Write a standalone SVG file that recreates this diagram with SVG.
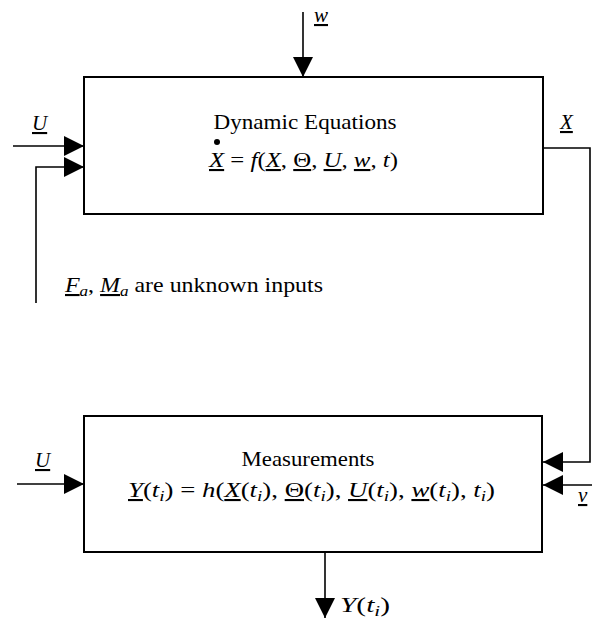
<svg xmlns="http://www.w3.org/2000/svg" width="592" height="624" viewBox="0 0 592 624">
<style>
text{font-family:"Liberation Serif","Times New Roman",serif;font-size:21px;fill:#000}
.i{font-style:italic}
.u{text-decoration:underline}
.s{font-size:15px;font-style:italic}
.box{fill:#fff;stroke:#000;stroke-width:2}
.c{fill:none;stroke:#000;stroke-width:1.6}
</style>
<defs>
<marker id="ah" viewBox="0 0 20 20" refX="20" refY="10" markerWidth="21" markerHeight="20" markerUnits="userSpaceOnUse" orient="auto">
<path d="M0,0 L20,10 L0,20 Z" fill="#000"/>
</marker>
</defs>
<g id="connectors">
<path class="c" d="M303,12 V77" marker-end="url(#ah)"/>
<path class="c" d="M13,146 H84" marker-end="url(#ah)"/>
<path class="c" d="M36,303 V167 H84" marker-end="url(#ah)"/>
<path class="c" d="M543,148 H590 V462 H543" marker-end="url(#ah)"/>
<path class="c" d="M592,485 H543" marker-end="url(#ah)"/>
<path class="c" d="M17,484 H84" marker-end="url(#ah)"/>
<path class="c" d="M325,552 V618" marker-end="url(#ah)"/>
</g>
<g id="dynamic">
<rect class="box" x="84" y="77" width="459" height="137"/>
<text x="305" y="129" text-anchor="middle" textLength="183" lengthAdjust="spacingAndGlyphs">Dynamic Equations</text>
<circle cx="217" cy="142" r="3"/>
<text x="209" y="167" textLength="189" lengthAdjust="spacingAndGlyphs"><tspan class="i u">X</tspan> = <tspan class="i">f</tspan>(<tspan class="i u">X</tspan>, <tspan class="u">Θ</tspan>, <tspan class="i u">U</tspan>, <tspan class="i u">w</tspan>, <tspan class="i">t</tspan>)</text>
</g>
<g id="measurements">
<rect class="box" x="84" y="416" width="458" height="136"/>
<text x="308" y="466" text-anchor="middle" textLength="133" lengthAdjust="spacingAndGlyphs">Measurements</text>
<text x="128" y="497" textLength="367" lengthAdjust="spacingAndGlyphs"><tspan class="i u">Y</tspan>(<tspan class="i">t</tspan><tspan class="s" dy="4">i</tspan><tspan dy="-4">) = </tspan><tspan class="i">h</tspan>(<tspan class="i u">X</tspan>(<tspan class="i">t</tspan><tspan class="s" dy="4">i</tspan><tspan dy="-4">), </tspan><tspan class="u">Θ</tspan>(<tspan class="i">t</tspan><tspan class="s" dy="4">i</tspan><tspan dy="-4">), </tspan><tspan class="i u">U</tspan>(<tspan class="i">t</tspan><tspan class="s" dy="4">i</tspan><tspan dy="-4">), </tspan><tspan class="i u">w</tspan>(<tspan class="i">t</tspan><tspan class="s" dy="4">i</tspan><tspan dy="-4">), </tspan><tspan class="i">t</tspan><tspan class="s" dy="4">i</tspan><tspan dy="-4">)</tspan></text>
</g>
<g id="labels">
<text x="314" y="22" class="i u">w</text>
<text x="32" y="130" class="i u">U</text>
<text x="560" y="129" class="i u">X</text>
<text x="35" y="467" class="i u">U</text>
<text x="578" y="502" class="i u">v</text>
<text x="340" y="612" textLength="50" lengthAdjust="spacingAndGlyphs"><tspan class="i">Y</tspan>(<tspan class="i">t</tspan><tspan class="s" dy="4">i</tspan><tspan dy="-4">)</tspan></text>
<text x="65" y="292" textLength="258" lengthAdjust="spacingAndGlyphs"><tspan class="i u">F</tspan><tspan class="s" dy="4">a</tspan><tspan dy="-4">, </tspan><tspan class="i u">M</tspan><tspan class="s" dy="4">a</tspan><tspan dy="-4"> are unknown inputs</tspan></text>
</g>
</svg>
